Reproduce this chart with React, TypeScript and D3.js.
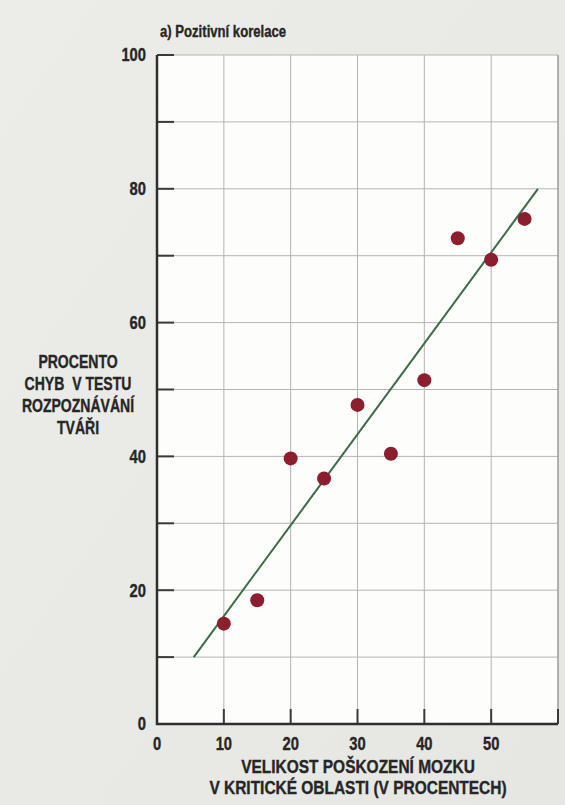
import React from "react";
import * as d3 from "d3";

const title = "a) Pozitivní korelace";
const damage = [10, 15, 20, 25, 30, 35, 40, 45, 50, 55];
const errors = [15, 18.5, 39.7, 36.7, 47.7, 40.4, 51.4, 72.6, 69.4, 75.5];
const fitX = [5.5, 57];
const fitY = [10, 80];
const xTickLabels = [0, 10, 20, 30, 40, 50];
const xTickMarks = [10, 20, 30, 40, 50, 60];
const yTickLabels = [0, 20, 40, 60, 80, 100];
const yTickMarks = [0, 10, 20, 30, 40, 50, 60, 70, 80, 90, 100];
const yTitle = ["PROCENTO", "CHYB  V TESTU", "ROZPOZNÁVÁNÍ", "TVÁŘI"];
const xTitle = ["VELIKOST POŠKOZENÍ MOZKU", "V KRITICKÉ OBLASTI (V PROCENTECH)"];

const W = 565;
const H = 805;
const FONT = "'Liberation Sans', Arial, Helvetica, sans-serif";
const INK = "#262626";

function CText(props: {
  x: number;
  y: number;
  size: number;
  sx?: number;
  anchor?: "start" | "middle" | "end";
  dy?: string;
  children: React.ReactNode;
}) {
  const { x, y, size, sx = 0.8, anchor = "start", dy, children } = props;
  return (
    <g transform={`translate(${x},${y}) scale(${sx},1)`}>
      <text
        x={0}
        y={0}
        dy={dy}
        textAnchor={anchor}
        fontSize={size}
        fill={INK}
        stroke={INK}
        strokeWidth={0.35}
        style={{ whiteSpace: "pre" }}
      >
        {children}
      </text>
    </g>
  );
}

export default function App() {
  const x = d3.scaleLinear().domain([0, 60]).range([157, 558]);
  const y = d3.scaleLinear().domain([0, 100]).range([724, 55]);
  const line = d3
    .line<number>()
    .x((d) => x(d))
    .y((_, i) => y(fitY[i]));

  return (
    <svg
      width={W}
      height={H}
      style={{ position: "absolute", left: 0, top: 0, display: "block" }}
      fontFamily={FONT}
      fontWeight="bold"
    >
      <defs>
        <linearGradient id="bg" x1="0" y1="0" x2="1" y2="1">
          <stop offset="0" stopColor="#ecece9" />
          <stop offset="1" stopColor="#e6e6e2" />
        </linearGradient>
      </defs>
      <rect x={0} y={0} width={W} height={H} fill="url(#bg)" />
      <rect x={x(0)} y={y(100)} width={x(60) - x(0)} height={y(0) - y(100)} fill="#fdfdfb" />
      {/* grid */}
      {yTickMarks.slice(1).map((v) => (
        <line key={"gy" + v} x1={x(0)} x2={x(60)} y1={y(v)} y2={y(v)} stroke="#b4b4b2" strokeWidth={1} />
      ))}
      {xTickMarks.map((v) => (
        <line
          key={"gx" + v}
          x1={x(v)}
          x2={x(v)}
          y1={y(0)}
          y2={y(100)}
          stroke={v === 60 ? "#9a9a98" : "#b4b4b2"}
          strokeWidth={v === 60 ? 1.5 : 1}
        />
      ))}
      {/* tick marks */}
      {yTickMarks.map((v) => (
        <line key={"ty" + v} x1={x(0)} x2={x(0) + 17} y1={y(v)} y2={y(v)} stroke="#3a3a3a" strokeWidth={2} />
      ))}
      {xTickMarks.map((v) => (
        <line key={"tx" + v} x1={x(v)} x2={x(v)} y1={y(0)} y2={y(0) - 15} stroke="#3a3a3a" strokeWidth={2} />
      ))}
      {/* axes */}
      <line x1={x(0)} x2={x(0)} y1={y(100)} y2={y(0) + 1} stroke="#2e2e2e" strokeWidth={2.5} />
      <line x1={x(0) - 1} x2={x(60)} y1={y(0)} y2={y(0)} stroke="#2e2e2e" strokeWidth={2.5} />
      {/* regression line */}
      <path d={line(fitX) || ""} fill="none" stroke="#3d6a48" strokeWidth={2} />
      {/* points */}
      {damage.map((d, i) => (
        <circle key={"p" + i} cx={x(d)} cy={y(errors[i])} r={7} fill="#8c1f2e" />
      ))}
      {/* y tick labels */}
      {yTickLabels.map((v) => (
        <CText key={"ly" + v} x={146} y={y(v)} dy="0.36em" anchor="end" size={18} sx={0.82}>
          {v}
        </CText>
      ))}
      {/* x tick labels */}
      {xTickLabels.map((v) => (
        <CText key={"lx" + v} x={x(v)} y={750} anchor="middle" size={18} sx={0.82}>
          {v}
        </CText>
      ))}
      {/* title */}
      <CText x={160} y={37} size={16} sx={0.82}>
        {title}
      </CText>
      {/* y title */}
      {yTitle.map((t, i) => (
        <CText key={"yt" + i} x={78} y={368 + i * 22} anchor="middle" size={18} sx={0.78}>
          {t}
        </CText>
      ))}
      {/* x title */}
      {xTitle.map((t, i) => (
        <CText key={"xt" + i} x={358} y={773 + i * 20.5} anchor="middle" size={18} sx={0.86}>
          {t}
        </CText>
      ))}
    </svg>
  );
}
